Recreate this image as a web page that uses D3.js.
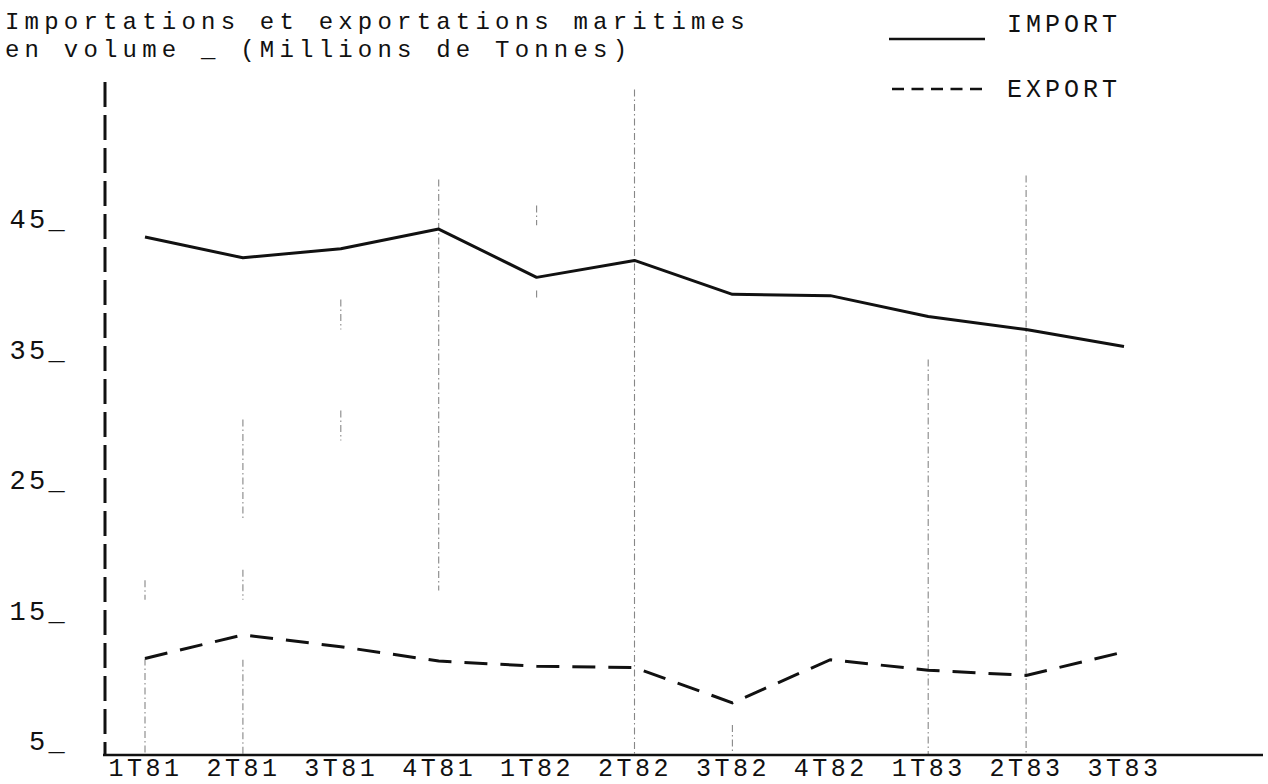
<!DOCTYPE html>
<html>
<head>
<meta charset="utf-8">
<script src="https://cdn.jsdelivr.net/npm/d3@7/dist/d3.min.js"></script>
<style>
  html, body { margin: 0; padding: 0; background: #fff; }
  svg { display: block; }
  text { font-family: "Liberation Mono", "DejaVu Sans Mono", monospace; fill: #111; }
</style>
</head>
<body>
<svg id="chart" width="1268" height="784"></svg>
<script>
// ---- data ----
const categories = ["1T81","2T81","3T81","4T81","1T82","2T82","3T82","4T82","1T83","2T83","3T83"];
const importValues = [44.7, 43.1, 43.8, 45.3, 41.6, 42.9, 40.3, 40.2, 38.6, 37.6, 36.3];
const exportValues = [12.4, 14.2, 13.3, 12.2, 11.8, 11.7, 9.0, 12.3, 11.5, 11.1, 12.9];
const yTicks = [5, 15, 25, 35, 45];
const titleLines = ["Importations et exportations maritimes", "en volume _ (Millions de Tonnes)"];
const seriesNames = ["IMPORT", "EXPORT"];
// faint vertical guide strokes (category, value from, value to)
const guideCats = ["1T81","1T81","2T81","2T81","2T81","3T81","3T81","4T81","1T82","1T82","2T82","3T82","1T83","2T83"];
const guideFrom = [12.4, 18.4, 12.3, 30.7, 19.2, 39.9, 31.4, 49.1, 47.1, 40.6, 56.0, 7.3, 35.3, 49.4];
const guideTo   = [5,    16.9, 5,    23.0, 16.9, 37.6, 29.1, 17.6, 45.6, 39.9, 5,    5,   5,    5];

// ---- layout ----
const svg = d3.select("#chart");
const x = d3.scalePoint().domain(categories).range([145, 1124]);
const y = d3.scaleLinear().domain([5, 45]).range([755, 233]);
const axisX = 105;
const yTopVal = y.invert(82);

// guides
svg.append("g").selectAll("line")
  .data(guideCats.map((c, i) => ({c, a: guideFrom[i], b: guideTo[i]})))
  .join("line")
  .attr("x1", d => x(d.c)).attr("x2", d => x(d.c))
  .attr("y1", d => y(d.a)).attr("y2", d => y(d.b))
  .attr("stroke", "#555").attr("stroke-width", 1.1)
  .attr("stroke-dasharray", "7,3,1.5,3")
  .attr("opacity", 0.7);

// y axis (dashed)
svg.append("line")
  .attr("x1", axisX).attr("x2", axisX)
  .attr("y1", y(yTopVal)).attr("y2", y(5))
  .attr("stroke", "#111").attr("stroke-width", 3)
  .attr("stroke-dasharray", "25,8");

// x axis
svg.append("line")
  .attr("x1", axisX - 2).attr("x2", 1263)
  .attr("y1", y(5)).attr("y2", y(5))
  .attr("stroke", "#111").attr("stroke-width", 2.6);

// y tick labels
svg.append("g").selectAll("text")
  .data(yTicks).join("text")
  .attr("x", 68).attr("y", d => y(d) - 5)
  .attr("text-anchor", "end")
  .style("font-size", "27px").style("letter-spacing", "3.3px")
  .text(d => d + "_");

// x labels
svg.append("g").selectAll("text")
  .data(categories).join("text")
  .attr("x", d => x(d) + 0.5).attr("y", 776)
  .attr("text-anchor", "middle")
  .style("font-size", "25px").style("letter-spacing", "3.5px")
  .text(d => d);

// lines
const line = d3.line().x((d, i) => x(categories[i])).y(d => y(d));
svg.append("path").datum(importValues)
  .attr("d", line).attr("fill", "none")
  .attr("stroke", "#111").attr("stroke-width", 3)
  .attr("stroke-linejoin", "round");
svg.append("path").datum(exportValues)
  .attr("d", line).attr("fill", "none")
  .attr("stroke", "#111").attr("stroke-width", 3)
  .attr("stroke-dasharray", "23,13");

// title
svg.append("g").selectAll("text")
  .data(titleLines).join("text")
  .attr("x", 5).attr("y", (d, i) => 29 + i * 28)
  .style("font-size", "24px").style("letter-spacing", "5.2px")
  .style("white-space", "pre")
  .text(d => d);

// legend
svg.append("line").attr("x1", 889).attr("x2", 985).attr("y1", 39).attr("y2", 39)
  .attr("stroke", "#111").attr("stroke-width", 2.6);
svg.append("line").attr("x1", 892).attr("x2", 982).attr("y1", 89).attr("y2", 89)
  .attr("stroke", "#111").attr("stroke-width", 2.6).attr("stroke-dasharray", "12,7.5");
svg.append("g").selectAll("text")
  .data(seriesNames).join("text")
  .attr("x", 1007).attr("y", (d, i) => i === 0 ? 32 : 97)
  .style("font-size", "25px").style("letter-spacing", "4px")
  .text(d => d);
</script>
</body>
</html>
